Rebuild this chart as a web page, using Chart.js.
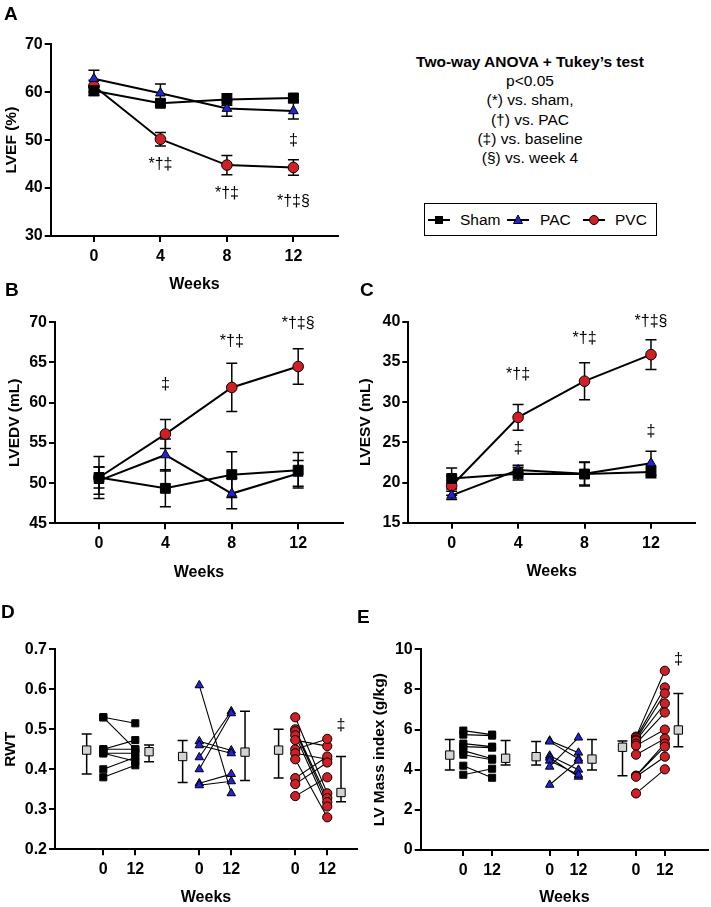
<!DOCTYPE html>
<html>
<head>
<meta charset="utf-8">
<script src="https://cdn.jsdelivr.net/npm/chart.js@4.4.1/dist/chart.umd.min.js"></script>
<style>
  body { margin: 0; background: #fff; width: 711px; height: 907px; position: relative; overflow: hidden;
         font-family: Arial, "Liberation Sans", sans-serif; color: #000; }
  canvas { position: absolute; }
  .letter { position: absolute; font-weight: bold; font-size: 19px; line-height: 1; }
  #stats { position: absolute; left: 380px; top: 52px; width: 300px; text-align: center;
           font-size: 15.5px; line-height: 19.2px; }
  #stats b { font-size: 15.5px; }
  #legend { position: absolute; left: 424px; top: 203px; width: 231px; height: 31px;
            border: 1.5px solid #000; font-size: 15.5px; }
  #legend span { position: absolute; top: 7px; line-height: 18px; }
  #legend svg { position: absolute; top: 9px; }
</style>
</head>
<body>
<canvas id="chartA" width="345" height="300" style="left:0;top:0"></canvas>
<canvas id="chartB" width="350" height="290" style="left:0;top:300px"></canvas>
<canvas id="chartC" width="356" height="290" style="left:355px;top:300px"></canvas>
<canvas id="chartD" width="362" height="317" style="left:0;top:590px"></canvas>
<canvas id="chartE" width="351" height="317" style="left:360px;top:590px"></canvas>

<div class="letter" style="left:4px;top:4px">A</div>
<div class="letter" style="left:5px;top:280px">B</div>
<div class="letter" style="left:360px;top:280px">C</div>
<div class="letter" style="left:1px;top:602px">D</div>
<div class="letter" style="left:357px;top:607px">E</div>

<div id="stats">
  <b>Two-way ANOVA + Tukey’s test</b><br>
  p&lt;0.05<br>
  (*) vs. sham,<br>
  (†) vs. PAC<br>
  (‡) vs. baseline<br>
  (§) vs. week 4
</div>

<div id="legend">
  <svg width="22" height="14" style="left:3px"><line x1="0" y1="7" x2="22" y2="7" stroke="#000" stroke-width="2"/><rect x="7" y="3" width="8" height="8" fill="#000"/></svg>
  <span style="left:35px">Sham</span>
  <svg width="22" height="14" style="left:82px"><line x1="0" y1="7" x2="22" y2="7" stroke="#000" stroke-width="2"/><polygon points="11,2 15.5,10.5 6.5,10.5" fill="#2222dd" stroke="#000" stroke-width="1"/></svg>
  <span style="left:115px">PAC</span>
  <svg width="22" height="14" style="left:158px"><line x1="0" y1="7" x2="22" y2="7" stroke="#000" stroke-width="2"/><circle cx="11" cy="7" r="4.5" fill="#d11f26" stroke="#000" stroke-width="1"/></svg>
  <span style="left:190px">PVC</span>
</div>

<script>
/* ===============================
   Data
================================ */
const weeks = [0, 4, 8, 12];

// A - LVEF (%), mean and SEM
const lvefSham = [60.3, 57.7, 58.5, 58.8];
const lvefPac = [62.8, 59.8, 56.6, 56.1];
const lvefPvc = [61.3, 50.2, 44.8, 44.3];
const lvefShamSem = [1.0, 0.6, 1.2, 0.6];
const lvefPacSem = [1.8, 1.9, 1.6, 1.7];
const lvefPvcSem = [1.2, 1.4, 2.0, 1.6];
const lvefMarkText = ['*†‡', '*†‡', '*†‡§', '‡'];
const lvefMarkWeek = [4, 8, 12, 12];
const lvefMarkLevel = [44.8, 38.9, 37.2, 49.9];

// B - LVEDV (mL)
const edvSham = [50.7, 49.35, 51.05, 51.6];
const edvPac = [50.3, 53.5, 48.7, 51.2];
const edvPvc = [50.7, 56.1, 61.9, 64.5];
const edvShamSem = [1.3, 2.3, 2.85, 2.2];
const edvPacSem = [1.7, 2.0, 1.9, 1.6];
const edvPvcSem = [2.6, 1.8, 3.0, 2.2];
const edvMarkText = ['‡', '*†‡', '*†‡§'];
const edvMarkWeek = [4, 8, 12];
const edvMarkLevel = [62.2, 67.6, 69.9];

// C - LVESV (mL)
const esvSham = [20.5, 21.1, 21.05, 21.3];
const esvPac = [18.4, 21.55, 21.1, 22.4];
const esvPvc = [19.6, 28.1, 32.6, 35.9];
const esvShamSem = [1.3, 0.8, 1.5, 0.7];
const esvPacSem = [0.5, 0.6, 1.4, 1.5];
const esvPvcSem = [1.2, 1.6, 2.3, 1.85];
const esvMarkText = ['*†‡', '‡', '*†‡', '*†‡§', '‡'];
const esvMarkWeek = [4, 4, 8, 12, 12];
const esvMarkLevel = [33.4, 24.2, 37.9, 40.0, 26.3];

// D - RWT, individual animals at week 0 and week 12
const rwtShamBase = [0.53, 0.53, 0.45, 0.45, 0.44, 0.44, 0.40, 0.38];
const rwtShamWk12 = [0.515, 0.45, 0.473, 0.45, 0.44, 0.42, 0.43, 0.41];
const rwtPacBase = [0.61, 0.47, 0.46, 0.43, 0.40, 0.365, 0.36];
const rwtPacWk12 = [0.34, 0.447, 0.44, 0.545, 0.54, 0.388, 0.37];
const rwtPvcBase = [0.53, 0.50, 0.495, 0.485, 0.473, 0.45, 0.44, 0.425, 0.378, 0.363, 0.333];
const rwtPvcWk12 = [0.34, 0.328, 0.318, 0.307, 0.458, 0.476, 0.425, 0.28, 0.432, 0.417, 0.38];
// summary squares: Sham 0, Sham 12, PAC 0, PAC 12, PVC 0, PVC 12
const rwtMid = [0.448, 0.444, 0.432, 0.443, 0.448, 0.342];
const rwtLow = [0.388, 0.419, 0.367, 0.372, 0.378, 0.319];
const rwtHigh = [0.488, 0.461, 0.472, 0.545, 0.500, 0.432];

// E - LV Mass index (g/kg)
const lvmShamBase = [5.95, 5.75, 5.3, 5.15, 4.95, 4.75, 4.2, 3.75];
const lvmShamWk12 = [5.75, 5.7, 5.15, 5.1, 4.55, 4.5, 3.6, 4.05];
const lvmPacBase = [5.45, 5.4, 4.7, 4.6, 4.45, 4.15, 3.25];
const lvmPacWk12 = [4.85, 4.55, 4.0, 3.65, 3.75, 5.6, 4.45];
const lvmPvcBase = [5.65, 5.6, 5.5, 5.45, 5.3, 5.2, 4.75, 3.7, 3.7, 3.65, 2.82];
const lvmPvcWk12 = [8.93, 8.1, 7.8, 7.3, 6.85, 6.0, 5.55, 5.3, 5.15, 4.65, 4.02];
const lvmMid = [4.73, 4.57, 4.65, 4.53, 5.12, 5.98];
const lvmLow = [3.99, 4.24, 4.24, 3.99, 3.7, 5.15];
const lvmHigh = [5.51, 5.45, 5.4, 5.51, 5.43, 7.8];

const pairTickLabels = ['0', '12', '0', '12', '0', '12'];

/* ===============================
   Styles
================================ */
const FONT = 'Arial, "Liberation Sans", sans-serif';
const RED = '#d11f26';
const BLUE = '#2222dd';
const GRAY = '#d3d3d3';

Chart.defaults.font.family = FONT;
Chart.defaults.color = '#000';
Chart.defaults.animation = false;

const bigMarks = {
  sham: { shape: 'rect', r: 7, fill: '#000' },
  pac: { shape: 'triangle', r: 5.6, fill: BLUE },
  pvc: { shape: 'circle', r: 5.3, fill: RED },
};
const smallMarks = {
  sham: { shape: 'rect', r: 5, fill: '#000' },
  pac: { shape: 'triangle', r: 4.9, fill: BLUE },
  pvc: { shape: 'circle', r: 4.6, fill: RED },
};

/* ===============================
   Plugins
================================ */
const errorBars = {
  id: 'errorBars',
  beforeDatasetsDraw(chart) {
    const { ctx, scales: { x, y } } = chart;
    ctx.save();
    ctx.strokeStyle = '#000';
    ctx.lineWidth = 1.5;
    chart.data.datasets.forEach((ds) => {
      if (!ds.errLow) return;
      const cap = ds.capHalf;
      ds.data.forEach((p, i) => {
        const px = x.getPixelForValue(p.x);
        const lo = y.getPixelForValue(ds.errLow[i]);
        const hi = y.getPixelForValue(ds.errHigh[i]);
        ctx.beginPath();
        ctx.moveTo(px, lo); ctx.lineTo(px, hi);
        ctx.moveTo(px - cap, lo); ctx.lineTo(px + cap, lo);
        ctx.moveTo(px - cap, hi); ctx.lineTo(px + cap, hi);
        ctx.stroke();
      });
    });
    ctx.restore();
  },
};

function sigMarks(texts, xs, ys) {
  return {
    id: 'sigMarks',
    afterDatasetsDraw(chart) {
      const { ctx, scales: { x, y } } = chart;
      ctx.save();
      ctx.font = '16px ' + FONT;
      ctx.fillStyle = '#000';
      ctx.textAlign = 'center';
      ctx.textBaseline = 'middle';
      texts.forEach((t, i) => ctx.fillText(t, x.getPixelForValue(xs[i]), y.getPixelForValue(ys[i])));
      ctx.restore();
    },
  };
}

/* ===============================
   Builders
================================ */
function meanDataset(label, style, values, sems) {
  return {
    label,
    data: weeks.map((w, i) => ({ x: w, y: values[i] })),
    errLow: values.map((v, i) => v - sems[i]),
    errHigh: values.map((v, i) => v + sems[i]),
    capHalf: 5.5,
    borderColor: '#000',
    borderWidth: 2,
    pointStyle: style.shape,
    pointRadius: style.r,
    pointHoverRadius: style.r,
    pointBackgroundColor: style.fill,
    pointBorderColor: '#000',
    pointBorderWidth: 1,
  };
}

function pairDataset(label, style, x0, base, wk12) {
  const data = [];
  base.forEach((v, i) => {
    data.push({ x: x0, y: v }, { x: x0 + 1, y: wk12[i] }, { x: x0 + 0.5, y: null });
  });
  return {
    label,
    data,
    spanGaps: false,
    borderColor: '#000',
    borderWidth: 1.1,
    pointStyle: style.shape,
    pointRadius: style.r,
    pointHoverRadius: style.r,
    pointBackgroundColor: style.fill,
    pointBorderColor: '#000',
    pointBorderWidth: 1,
  };
}

function summaryDataset(xs, mid, low, high) {
  return {
    label: 'summary',
    data: xs.map((x, i) => ({ x, y: mid[i] })),
    errLow: low,
    errHigh: high,
    capHalf: 5,
    showLine: false,
    pointStyle: 'rect',
    pointRadius: 5.9,
    pointHoverRadius: 5.9,
    pointBackgroundColor: GRAY,
    pointBorderColor: '#000',
    pointBorderWidth: 1,
  };
}

function axisOptions(o) {
  const grid = { drawOnChartArea: false, color: '#000', lineWidth: 2, tickLength: 6 };
  const border = { color: '#000', width: 2 };
  return {
    x: {
      type: 'linear',
      min: o.xMin,
      max: o.xMax,
      afterBuildTicks: (s) => { s.ticks = o.xTicks.map((v) => ({ value: v })); },
      afterFit: (s) => { s.height = o.xH; },
      ticks: {
        autoSkip: false, maxRotation: 0, padding: 5,
        font: { size: 16, weight: 'bold' },
        callback: o.xLabel,
      },
      grid,
      border,
      title: {
        display: true, text: 'Weeks',
        font: { size: 16, weight: 'bold' },
        padding: { top: 0, bottom: o.xTitlePad },
      },
    },
    y: {
      min: o.yMin,
      max: o.yMax,
      afterFit: (s) => { s.width = o.yW; },
      ticks: {
        stepSize: o.yStep, padding: 2,
        font: { size: 16, weight: 'bold' },
        callback: o.yLabel || ((v) => v),
      },
      grid,
      border,
      title: {
        display: true, text: o.yTitle,
        font: { size: 15.5, weight: 'bold' },
        padding: { top: o.yTitlePad, bottom: 0 },
      },
    },
  };
}

function makeChart(id, datasets, o, extraPlugins) {
  new Chart(document.getElementById(id), {
    type: 'line',
    data: { datasets },
    options: {
      responsive: false,
      animation: false,
      layout: { autoPadding: false, padding: { top: o.padTop, right: o.padRight, left: 0, bottom: 0 } },
      plugins: { legend: { display: false }, tooltip: { enabled: false } },
      scales: axisOptions(o),
    },
    plugins: [errorBars].concat(extraPlugins),
  });
}

/* ===============================
   Panels A-C: time course
================================ */
const weekLabel = (v) => String(v);

makeChart('chartA', [
  meanDataset('Sham', bigMarks.sham, lvefSham, lvefShamSem),
  meanDataset('PAC', bigMarks.pac, lvefPac, lvefPacSem),
  meanDataset('PVC', bigMarks.pvc, lvefPvc, lvefPvcSem),
], {
  xMin: -2.6, xMax: 14.7, xTicks: weeks, xLabel: weekLabel, xH: 64, xTitlePad: 5.4,
  yMin: 30, yMax: 70, yStep: 10, yW: 50.7, yTitle: 'LVEF (%)', yTitlePad: 2,
  padTop: 44.3, padRight: 6.7,
}, [sigMarks(lvefMarkText, lvefMarkWeek, lvefMarkLevel)]);

makeChart('chartB', [
  meanDataset('Sham', bigMarks.sham, edvSham, edvShamSem),
  meanDataset('PAC', bigMarks.pac, edvPac, edvPacSem),
  meanDataset('PVC', bigMarks.pvc, edvPvc, edvPvcSem),
], {
  xMin: -2.65, xMax: 14.7, xTicks: weeks, xLabel: weekLabel, xH: 66.7, xTitlePad: 7.4,
  yMin: 45, yMax: 70, yStep: 5, yW: 55, yTitle: 'LVEDV (mL)', yTitlePad: 5.5,
  padTop: 22.3, padRight: 7,
}, [sigMarks(edvMarkText, edvMarkWeek, edvMarkLevel)]);

makeChart('chartC', [
  meanDataset('Sham', bigMarks.sham, esvSham, esvShamSem),
  meanDataset('PAC', bigMarks.pac, esvPac, esvPacSem),
  meanDataset('PVC', bigMarks.pvc, esvPvc, esvPvcSem),
], {
  xMin: -2.61, xMax: 14.65, xTicks: weeks, xLabel: weekLabel, xH: 67.3, xTitlePad: 8.7,
  yMin: 15, yMax: 40, yStep: 5, yW: 53.3, yTitle: 'LVESV (mL)', yTitlePad: 1,
  padTop: 21.7, padRight: 16,
}, [sigMarks(esvMarkText, esvMarkWeek, esvMarkLevel)]);

/* ===============================
   Panels D-E: paired animals
================================ */
const groupX = [0, 3, 6];
const pairTicks = [0, 1, 3, 4, 6, 7];
const pairLabel = (v, i) => pairTickLabels[i];

const rwtSummaryX = groupX.flatMap((g) => [g - 0.52, g + 1.43]);
makeChart('chartD', [
  pairDataset('Sham', smallMarks.sham, groupX[0], rwtShamBase, rwtShamWk12),
  pairDataset('PAC', smallMarks.pac, groupX[1], rwtPacBase, rwtPacWk12),
  pairDataset('PVC', smallMarks.pvc, groupX[2], rwtPvcBase, rwtPvcWk12),
  summaryDataset(rwtSummaryX, rwtMid, rwtLow, rwtHigh),
], {
  xMin: -1.51, xMax: 7.93, xTicks: pairTicks, xLabel: pairLabel, xH: 57.7, xTitlePad: 0,
  yMin: 0.2, yMax: 0.7, yStep: 0.1, yW: 55, yTitle: 'RWT', yTitlePad: 1,
  yLabel: (v) => v.toFixed(1),
  padTop: 59.3, padRight: 5,
}, [sigMarks(['‡'], [groupX[2] + 1.43], [0.51])]);

const lvmSummaryX = groupX.flatMap((g) => [g - 0.47, g + 1.47]);
makeChart('chartE', [
  pairDataset('Sham', smallMarks.sham, groupX[0], lvmShamBase, lvmShamWk12),
  pairDataset('PAC', smallMarks.pac, groupX[1], lvmPacBase, lvmPacWk12),
  pairDataset('PVC', smallMarks.pvc, groupX[2], lvmPvcBase, lvmPvcWk12),
  summaryDataset(lvmSummaryX, lvmMid, lvmLow, lvmHigh),
], {
  xMin: -1.48, xMax: 8.5, xTicks: pairTicks, xLabel: pairLabel, xH: 57, xTitlePad: 0,
  yMin: 0, yMax: 10, yStep: 2, yW: 60.7, yTitle: 'LV Mass index (g/kg)', yTitlePad: 10,
  padTop: 59.3, padRight: 3,
}, [sigMarks(['‡'], [groupX[2] + 1.47], [9.47])]);
</script>
</body>
</html>
